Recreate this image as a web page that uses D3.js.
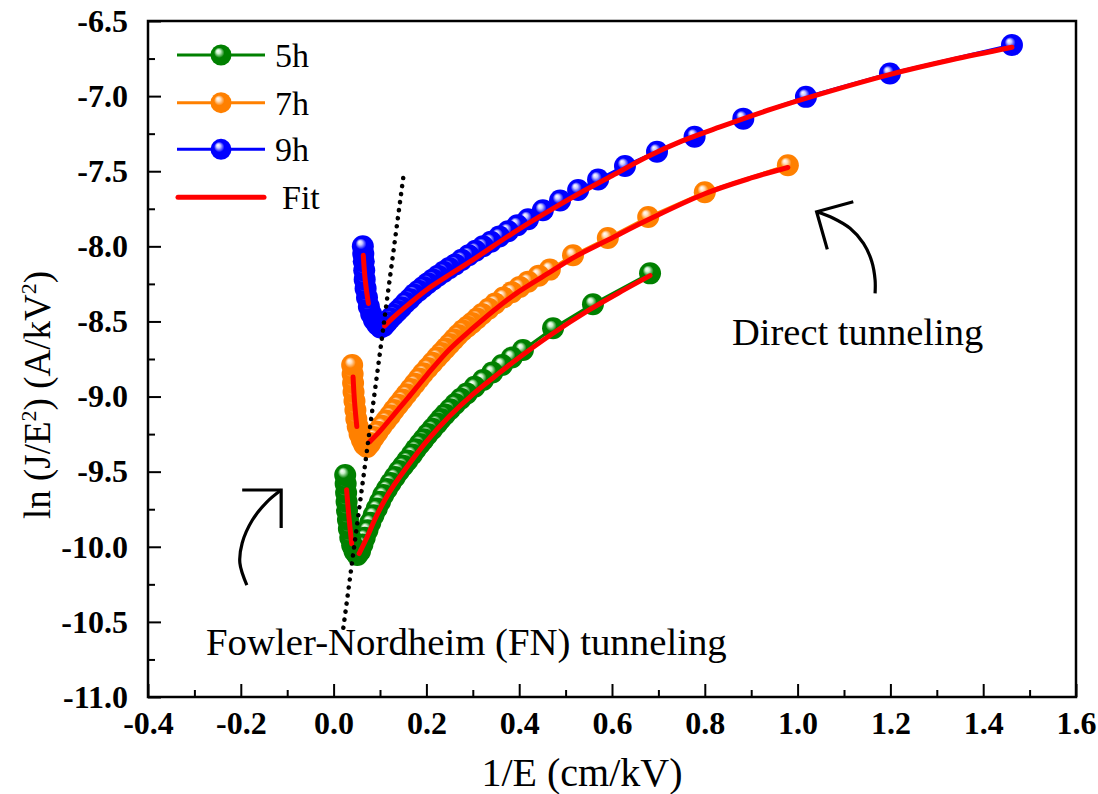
<!DOCTYPE html>
<html><head><meta charset="utf-8">
<script src="https://cdn.jsdelivr.net/npm/d3@7"></script>
<style>body{margin:0;background:#fff}svg{display:block}text{font-family:"Liberation Serif","Times New Roman",serif}</style>
</head><body><svg id="c" width="1098" height="794"></svg>
<script>
// ---------- tick definitions ----------
const xTicks = [-0.4,-0.2,0.0,0.2,0.4,0.6,0.8,1.0,1.2,1.4,1.6];
const xTickLabels = ["-0.4","-0.2","0.0","0.2","0.4","0.6","0.8","1.0","1.2","1.4","1.6"];
const xMinorTicks = [-0.3,-0.1,0.1,0.3,0.5,0.7,0.9,1.1,1.3,1.5];
const yTicks = [-11.0,-10.5,-10.0,-9.5,-9.0,-8.5,-8.0,-7.5,-7.0,-6.5];
const yTickLabels = ["-11.0","-10.5","-10.0","-9.5","-9.0","-8.5","-8.0","-7.5","-7.0","-6.5"];
const yMinorTicks = [-10.75,-10.25,-9.75,-9.25,-8.75,-8.25,-7.75,-7.25,-6.75];

// ---------- series ----------
const seriesNames = ["5h","7h","9h"];
const seriesColors = ["#008000","#ff8000","#0000ff"];
const fitName = "Fit";

// 5h
const x5h = [0.025,0.026,0.027,0.028,0.029,0.031,0.033,0.036,0.040,0.045,0.051,
  0.057,0.062,0.067,0.073,0.079,0.086,0.093,0.100,0.107,0.115,0.123,0.132,0.141,0.150,0.159,0.169,0.177,0.186,0.194,0.203,
  0.213,0.223,0.231,0.240,0.251,0.262,0.274,0.287,0.304,0.322,0.342,0.363,0.384,0.408,0.473,0.559,0.682];
const y5h = [-9.523,-9.58,-9.64,-9.70,-9.76,-9.82,-9.88,-9.94,-9.99,-10.03,-10.055,
  -10.03,-9.985,-9.94,-9.89,-9.84,-9.79,-9.745,-9.70,-9.655,-9.615,-9.575,-9.535,-9.495,-9.46,-9.425,-9.385,-9.35,-9.315,-9.285,-9.25,
  -9.215,-9.18,-9.15,-9.12,-9.085,-9.05,-9.015,-8.98,-8.935,-8.89,-8.84,-8.79,-8.74,-8.69,-8.545,-8.385,-8.18];
// 7h
const x7h = [0.040,0.041,0.042,0.043,0.045,0.047,0.049,0.052,0.056,0.061,0.066,0.072,
  0.079,0.087,0.095,0.104,0.113,0.122,0.130,0.139,0.148,0.157,0.166,0.175,0.184,0.193,0.203,0.213,0.223,0.232,0.241,0.250,
  0.259,0.268,0.278,0.288,0.298,0.309,0.320,0.334,0.348,0.366,0.384,0.401,0.419,0.442,0.466,0.516,0.591,0.678,0.800,0.979];
const y7h = [-8.79,-8.85,-8.91,-8.97,-9.03,-9.09,-9.15,-9.20,-9.25,-9.29,-9.32,-9.335,
  -9.31,-9.27,-9.235,-9.195,-9.16,-9.125,-9.09,-9.055,-9.02,-8.985,-8.95,-8.915,-8.88,-8.845,-8.81,-8.775,-8.74,-8.71,-8.68,-8.65,
  -8.62,-8.59,-8.56,-8.535,-8.51,-8.48,-8.45,-8.415,-8.38,-8.34,-8.305,-8.27,-8.235,-8.195,-8.155,-8.06,-7.945,-7.805,-7.64,-7.46];
// 9h
const x9h = [0.063,0.064,0.065,0.066,0.067,0.069,0.072,0.076,0.081,0.087,0.094,0.101,
  0.108,0.115,0.122,0.130,0.138,0.146,0.155,0.164,0.173,0.183,0.193,0.203,0.214,0.225,0.237,0.249,0.262,0.276,0.291,0.306,
  0.322,0.339,0.357,0.376,0.396,0.419,0.451,0.488,0.527,0.570,0.628,0.697,0.778,0.883,1.018,1.199,1.462];
const y9h = [-8.00,-8.05,-8.10,-8.16,-8.22,-8.28,-8.34,-8.40,-8.45,-8.49,-8.52,-8.54,
  -8.53,-8.505,-8.48,-8.455,-8.43,-8.405,-8.375,-8.35,-8.32,-8.295,-8.27,-8.245,-8.22,-8.195,-8.17,-8.145,-8.12,-8.09,-8.06,-8.03,
  -8.00,-7.97,-7.935,-7.90,-7.86,-7.82,-7.76,-7.695,-7.625,-7.555,-7.465,-7.37,-7.27,-7.15,-7.005,-6.85,-6.66];

// fits (FN segment + direct tunneling segment)
const fitFN5hX = [0.028,0.033,0.039], fitFN5hY = [-9.62,-9.80,-9.98];
const fitDT5hX = [0.055,0.07,0.09,0.11,0.13,0.16,0.20,0.25,0.30,0.35,0.40,0.47,0.55,0.62,0.682];
const fitDT5hY = [-10.045,-9.95,-9.81,-9.69,-9.59,-9.46,-9.30,-9.13,-8.985,-8.86,-8.74,-8.585,-8.425,-8.30,-8.195];
const fitFN7hX = [0.042,0.045,0.050], fitFN7hY = [-8.87,-9.03,-9.20];
const fitDT7hX = [0.078,0.10,0.13,0.16,0.20,0.25,0.30,0.35,0.40,0.47,0.52,0.59,0.68,0.80,0.90,0.979];
const fitDT7hY = [-9.30,-9.23,-9.12,-9.01,-8.86,-8.685,-8.545,-8.415,-8.30,-8.165,-8.07,-7.96,-7.82,-7.65,-7.545,-7.475];
const fitFN9hX = [0.064,0.068,0.075], fitFN9hY = [-8.06,-8.22,-8.38];
const fitDT9hX = [0.110,0.13,0.16,0.20,0.244,0.30,0.387,0.45,0.531,0.60,0.675,0.75,0.833,0.95,1.05,1.20,1.33,1.462];
const fitDT9hY = [-8.53,-8.47,-8.39,-8.29,-8.20,-8.09,-7.91,-7.79,-7.645,-7.53,-7.405,-7.30,-7.205,-7.08,-6.985,-6.855,-6.76,-6.675];

// guide line (dotted) and annotation arrows, in data units
const guideX = [0.150,0.021], guideY = [-7.545,-10.54];
const arrowDTX = [1.167,1.167,1.160,1.142,1.113,1.077,1.041];
const arrowDTY = [-8.313,-8.224,-8.102,-7.980,-7.880,-7.813,-7.770];
const arrowDTHeadX = [1.120,1.041,1.064], arrowDTHeadY = [-7.703,-7.770,-8.020];
const arrowFNX = [-0.187,-0.202,-0.197,-0.175,-0.144,-0.113];
const arrowFNY = [-10.255,-10.108,-9.975,-9.822,-9.702,-9.622];
const arrowFNHeadX = [-0.197,-0.113,-0.113], arrowFNHeadY = [-9.622,-9.622,-9.875];

// ---------- layout ----------
const L = 148, R = 1076, T = 21, B = 697;
const svg = d3.select("#c");
const x = d3.scaleLinear().domain([-0.4,1.6]).range([L,R]);
const y = d3.scaleLinear().domain([-11,-6.5]).range([B,T]);
const SERIF = "Liberation Serif, Times New Roman, serif";

// gradients for spheres
const defs = svg.append("defs");
const hl = ["#c8f0c8","#ffe0c0","#c8c8ff"];
seriesColors.forEach((c,i)=>{
  const g = defs.append("radialGradient").attr("id","g"+i)
    .attr("cx","50%").attr("cy","50%").attr("r","55%").attr("fx","35%").attr("fy","30%");
  g.append("stop").attr("offset","0%").attr("stop-color","#ffffff");
  g.append("stop").attr("offset","18%").attr("stop-color",hl[i]);
  g.append("stop").attr("offset","45%").attr("stop-color",c);
  g.append("stop").attr("offset","100%").attr("stop-color",c);
});

// axes (inward ticks)
const xAx = svg.append("g").attr("transform",`translate(0,${B})`)
  .call(d3.axisBottom(x).tickValues(xTicks).tickSize(-13).tickPadding(14)
  .tickFormat((d,i)=>xTickLabels[i]));
const xAxMin = svg.append("g").attr("transform",`translate(0,${B})`)
  .call(d3.axisBottom(x).tickValues(xMinorTicks).tickSize(-7).tickFormat(""));
const yAx = svg.append("g").attr("transform",`translate(${L},0)`)
  .call(d3.axisLeft(y).tickValues(yTicks).tickSize(-13).tickPadding(20)
  .tickFormat((d,i)=>yTickLabels[i]));
const yAxMin = svg.append("g").attr("transform",`translate(${L},0)`)
  .call(d3.axisLeft(y).tickValues(yMinorTicks).tickSize(-7).tickFormat(""));
[xAx,xAxMin,yAx,yAxMin].forEach(a=>{
  a.attr("font-family",SERIF).attr("font-size",32).attr("font-weight","bold");
  a.select(".domain").remove();
  a.selectAll(".tick line").attr("stroke","#000").attr("stroke-width",2);
  a.selectAll(".tick text").attr("fill","#000")
    .attr("font-family",SERIF).attr("font-size",32).attr("font-weight","bold");
});
xAx.selectAll(".tick text").attr("y",14).attr("dy","0.71em");
svg.append("rect").attr("x",L).attr("y",T).attr("width",R-L).attr("height",B-T)
  .attr("fill","none").attr("stroke","#000").attr("stroke-width",2.5);

// data series (markers drawn in measurement order: high 1/E toward low 1/E)
const xs = [x5h,x7h,x9h], ys = [y5h,y7h,y9h];
const lineLin = d3.line().x(d=>x(d[0])).y(d=>y(d[1]));
xs.forEach((xa,i)=>{
  const pts = xa.map((v,j)=>[v,ys[i][j]]).reverse();
  svg.append("path").datum(pts).attr("d",lineLin).attr("fill","none")
    .attr("stroke",seriesColors[i]).attr("stroke-width",3);
  svg.append("g").selectAll("circle").data(pts).join("circle")
    .attr("cx",d=>x(d[0])).attr("cy",d=>y(d[1])).attr("r",11)
    .attr("fill",`url(#g${i})`);
});

// fits
const fitLine = d3.line().x(d=>x(d[0])).y(d=>y(d[1])).curve(d3.curveCatmullRom);
const fits = [[fitFN5hX,fitFN5hY],[fitDT5hX,fitDT5hY],[fitFN7hX,fitFN7hY],[fitDT7hX,fitDT7hY],[fitFN9hX,fitFN9hY],[fitDT9hX,fitDT9hY]];
fits.forEach(f=>{
  const pts = f[0].map((v,j)=>[v,f[1][j]]);
  svg.append("path").datum(pts).attr("d",fitLine).attr("fill","none")
    .attr("stroke","#ff0000").attr("stroke-width",5).attr("stroke-linecap","round");
});

// dotted guide
svg.append("path").datum(guideX.map((v,j)=>[v,guideY[j]])).attr("d",lineLin)
  .attr("fill","none").attr("stroke","#000").attr("stroke-width",4.5)
  .attr("stroke-linecap","round").attr("stroke-dasharray","0.1,8");

// arrows
const smooth = d3.line().x(d=>x(d[0])).y(d=>y(d[1])).curve(d3.curveCatmullRom);
[[arrowDTX,arrowDTY],[arrowFNX,arrowFNY]].forEach(a=>{
  svg.append("path").datum(a[0].map((v,j)=>[v,a[1][j]])).attr("d",smooth)
    .attr("fill","none").attr("stroke","#000").attr("stroke-width",3.2);
});
[[arrowDTHeadX,arrowDTHeadY],[arrowFNHeadX,arrowFNHeadY]].forEach(a=>{
  svg.append("path").datum(a[0].map((v,j)=>[v,a[1][j]])).attr("d",lineLin)
    .attr("fill","none").attr("stroke","#000").attr("stroke-width",3.2);
});

// annotations
svg.append("text").attr("x",732).attr("y",345).attr("font-family",SERIF).attr("font-size",38.5).text("Direct tunneling");
svg.append("text").attr("x",206).attr("y",655).attr("font-family",SERIF).attr("font-size",38.8).text("Fowler-Nordheim (FN) tunneling");

// axis titles
svg.append("text").attr("x",582).attr("y",786).attr("text-anchor","middle")
  .attr("font-family",SERIF).attr("font-size",40).text("1/E (cm/kV)");
const yt = svg.append("text").attr("transform","translate(50,395) rotate(-90)")
  .attr("text-anchor","middle").attr("font-family",SERIF).attr("font-size",37);
yt.append("tspan").text("ln (J/E");
yt.append("tspan").attr("dy",-14).attr("font-size",22).text("2");
yt.append("tspan").attr("dy",14).text(") (A/kV");
yt.append("tspan").attr("dy",-14).attr("font-size",22).text("2");
yt.append("tspan").attr("dy",14).text(")");

// legend
const legY = [55,102.7,149.3];
seriesNames.forEach((n,i)=>{
  svg.append("line").attr("x1",177).attr("x2",265).attr("y1",legY[i]).attr("y2",legY[i])
    .attr("stroke",seriesColors[i]).attr("stroke-width",3);
  svg.append("circle").attr("cx",221).attr("cy",legY[i]).attr("r",10.5).attr("fill",`url(#g${i})`);
  svg.append("text").attr("x",275).attr("y",legY[i]+12).attr("font-family",SERIF).attr("font-size",34).text(n);
});
svg.append("line").attr("x1",178).attr("x2",264).attr("y1",197.3).attr("y2",197.3)
  .attr("stroke","#ff0000").attr("stroke-width",5).attr("stroke-linecap","round");
svg.append("text").attr("x",282).attr("y",209).attr("font-family",SERIF).attr("font-size",34).text(fitName);
</script></body></html>
